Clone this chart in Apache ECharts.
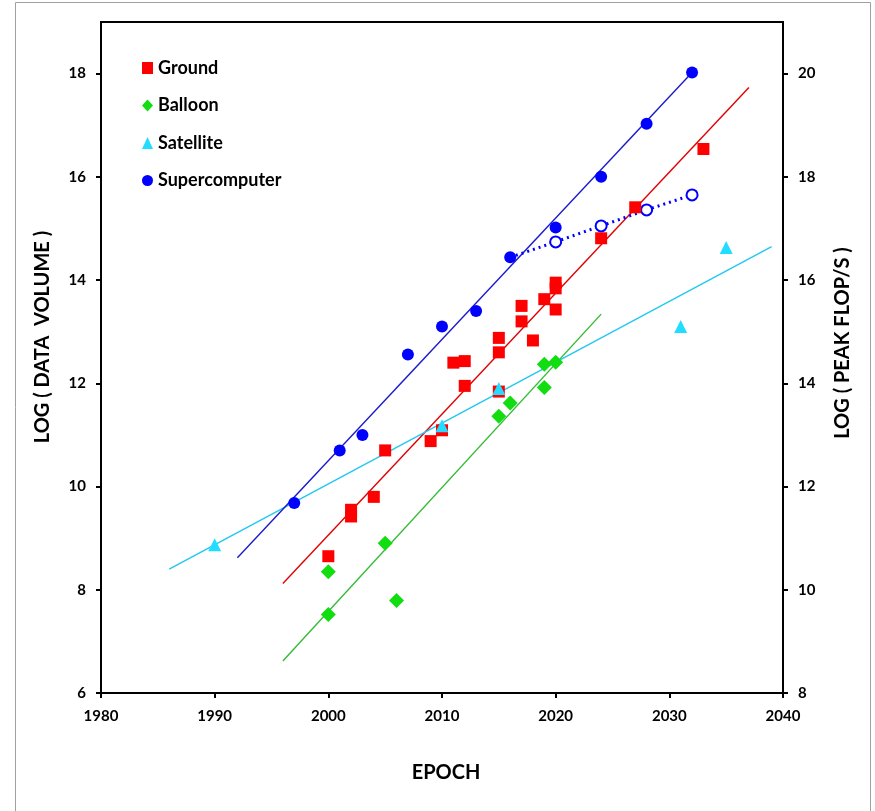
<!DOCTYPE html>
<html>
<head>
<meta charset="utf-8">
<script src="https://cdn.jsdelivr.net/npm/echarts@6/dist/echarts.min.js"></script>
<style>html,body{margin:0;padding:0;background:#fff}#c{width:875px;height:811px}</style>
</head>
<body>
<div id="c"></div>
<script>
// ---- tick labels ----
const xTicks = [1980, 1990, 2000, 2010, 2020, 2030, 2040];
const yLeftTicks = [6, 8, 10, 12, 14, 16, 18];
const yRightTicks = [8, 10, 12, 14, 16, 18, 20];

// ---- data: [year, log value] ----
const ground = [[2000,8.65],[2002,9.55],[2002,9.42],[2004,9.8],[2005,10.7],[2009,10.88],[2010,11.09],
  [2011,12.4],[2012,12.43],[2012,11.95],[2015,11.84],[2015,12.6],[2015,12.88],[2017,13.2],[2017,13.5],
  [2018,12.83],[2019,13.63],[2020,13.43],[2020,13.84],[2020,13.95],[2024,14.81],[2027,15.41],[2033,16.54]];
const balloon = [[2000,8.35],[2000,7.52],[2005,8.9],[2006,7.79],[2015,11.36],[2016,11.62],[2019,11.92],[2019,12.37],[2020,12.41]];
const satellite = [[1990,8.87],[2010,11.18],[2015,11.9],[2031,13.1],[2035,14.63]];
// supercomputer on right axis (log peak flop/s)
const supercomputer = [[1997,11.68],[2001,12.7],[2003,13.0],[2007,14.56],[2010,15.1],[2013,15.4],[2016,16.44],[2020,17.02],[2024,18.0],[2028,19.03],[2032,20.02]];
const superProjected = [[2016,16.44],[2020,16.74],[2024,17.05],[2028,17.36],[2032,17.65]];

// ---- fitted trend lines (endpoints) ----
const groundFit = [[1996,8.12],[2037,17.73]];
const balloonFit = [[1996,6.62],[2024,13.34]];
const satelliteFit = [[1986,8.4],[2039,14.65]];
const superFit = [[1992,10.62],[2032,20.02]];

const RED='#ff0000', GREEN='#11dd11', CYAN='#22ddff', BLUE='#0000ff';
const FONT = 'Lato, "Open Sans", sans-serif';

const chart = echarts.init(document.getElementById('c'), null, {renderer:'canvas'});

function fitLine(data, color, yi){
  return {type:'line', data:data, yAxisIndex:yi||0, showSymbol:false, symbol:'none', silent:true,
    lineStyle:{color:color, width:1.4}, z:2, animation:false};
}
function axisCommon(){
  return {
    axisLine:{show:true, lineStyle:{color:'#000', width:2}},
    axisTick:{show:true, inside:false, length:5, lineStyle:{color:'#000', width:2}},
    axisLabel:{color:'#000', fontFamily:FONT, fontWeight:'bold', fontSize:15},
    splitLine:{show:false}
  };
}

const option = {
  backgroundColor:'#fff',
  animation:false,
  grid:{left:101, right:92, top:22, bottom:118, show:true, borderColor:'#000', borderWidth:2},
  legend:{
    orient:'vertical', left:142, top:59, padding:0, itemWidth:11, itemHeight:12, itemGap:19.5,
    textStyle:{fontFamily:FONT, fontWeight:'bold', fontSize:18, color:'#000', lineHeight:12},
    data:['Ground','Balloon','Satellite','Supercomputer']
  },
  xAxis:Object.assign(axisCommon(), {
    type:'value', min:1980, max:2040, interval:10,
    axisLabel:Object.assign(axisCommon().axisLabel, {margin:16, customValues:xTicks, formatter:v=>String(v)}),
    axisTick:Object.assign(axisCommon().axisTick, {customValues:xTicks})
  }),
  yAxis:[
    Object.assign(axisCommon(), {type:'value', position:'left', min:6, max:19, interval:1,
      axisLabel:Object.assign(axisCommon().axisLabel, {margin:15, customValues:yLeftTicks}),
      axisTick:Object.assign(axisCommon().axisTick, {customValues:yLeftTicks})}),
    Object.assign(axisCommon(), {type:'value', position:'right', min:8, max:21, interval:1,
      axisLabel:Object.assign(axisCommon().axisLabel, {margin:15, customValues:yRightTicks}),
      axisTick:Object.assign(axisCommon().axisTick, {customValues:yRightTicks})})
  ],
  graphic:[
    {type:'rect', shape:{x:15.5, y:2.5, width:855, height:830}, style:{fill:'none', stroke:'#a0a0a0', lineWidth:1}, silent:true},
    {type:'text', x:43, y:337, rotation:Math.PI/2, style:{text:'LOG ( DATA  VOLUME )', font:'bold 20px '+FONT, fill:'#000', textAlign:'center', textVerticalAlign:'middle'}},
    {type:'text', x:843, y:343, rotation:Math.PI/2, style:{text:'LOG ( PEAK FLOP/S )', font:'bold 20px '+FONT, fill:'#000', textAlign:'center', textVerticalAlign:'middle'}},
    {type:'text', x:446, y:773, style:{text:'EPOCH', font:'bold 20px '+FONT, fill:'#000', textAlign:'center', textVerticalAlign:'middle'}}
  ],
  series:[
    fitLine(groundFit, '#e00000'),
    fitLine(balloonFit, '#33bb33'),
    fitLine(satelliteFit, '#22c8f0'),
    fitLine(superFit, '#1a1acc', 1),
    {type:'line', name:'Projected', yAxisIndex:1, data:superProjected.map((p,i)=> i===0 ? {value:p, symbol:'none'} : {value:p}),
      symbol:'emptyCircle', symbolSize:11, showSymbol:true,
      lineStyle:{color:BLUE, width:3, type:[2,4]}, itemStyle:{color:BLUE, borderColor:BLUE, borderWidth:1.5}, z:3},
    {type:'scatter', name:'Ground', data:ground, symbol:'rect', symbolSize:12, itemStyle:{color:RED, opacity:1}, z:4},
    {type:'scatter', name:'Balloon', data:balloon, symbol:'diamond', symbolSize:15, itemStyle:{color:GREEN, opacity:1}, z:4},
    {type:'scatter', name:'Satellite', data:satellite, symbol:'triangle', symbolSize:13, itemStyle:{color:CYAN, opacity:1}, z:5},
    {type:'scatter', name:'Supercomputer', yAxisIndex:1, data:supercomputer, symbol:'circle', symbolSize:12, itemStyle:{color:BLUE, opacity:1}, z:4}
  ]
};
chart.setOption(option);
</script>
</body>
</html>
